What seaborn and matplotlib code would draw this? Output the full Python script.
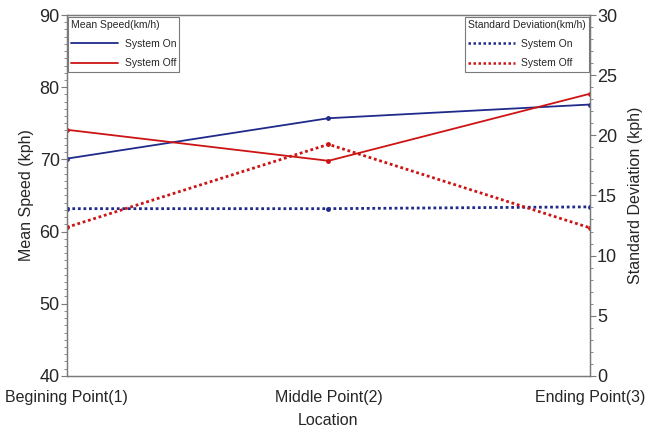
import matplotlib
matplotlib.use("Agg")
import matplotlib.pyplot as plt
import seaborn as sns
import pandas as pd
from matplotlib.ticker import MultipleLocator
from matplotlib.lines import Line2D

locations = ["Begining Point(1)", "Middle Point(2)", "Ending Point(3)"]
mean_on = [70.1, 75.7, 77.6]
mean_off = [74.1, 69.8, 79.1]
sd_on = [13.9, 13.9, 14.05]
sd_off = [12.35, 19.25, 12.3]

sns.set_style("white")
plt.rcParams['font.family'] = ['Liberation Sans', 'DejaVu Sans']

BLUE = "#1f2a8a"
RED = "#cc1414"
SPINE = "#7a7a7a"

mean_df = pd.DataFrame({
    "Location": locations * 2,
    "Mean": mean_on + mean_off,
    "System": ["System On"] * 3 + ["System Off"] * 3,
})
sd_df = pd.DataFrame({
    "Location": locations * 2,
    "SD": sd_on + sd_off,
    "System": ["System On"] * 3 + ["System Off"] * 3,
})

fig, ax = plt.subplots(figsize=(6.55, 4.30), dpi=100)
fig.subplots_adjust(left=0.102, right=0.901, top=0.965, bottom=0.126)

sns.lineplot(data=mean_df, x="Location", y="Mean", hue="System",
             palette={"System On": BLUE, "System Off": RED},
             marker="o", markersize=3.5, markeredgewidth=0, linewidth=1.3,
             ax=ax, legend=False, sort=False)
ax2 = ax.twinx()
sns.lineplot(data=sd_df, x="Location", y="SD", hue="System",
             palette={"System On": BLUE, "System Off": RED},
             marker="o", markersize=3.5, markeredgewidth=0, linewidth=2.0,
             linestyle=(0, (1, 1)), ax=ax2, legend=False, sort=False)

ax.set_xlim(0, 2)
ax.set_ylim(40, 90)
ax2.set_ylim(0, 30)
ax.yaxis.set_major_locator(MultipleLocator(10))
ax.yaxis.set_minor_locator(MultipleLocator(1))
ax2.yaxis.set_major_locator(MultipleLocator(5))
ax2.yaxis.set_minor_locator(MultipleLocator(1))

ax.set_xticks([0, 1, 2])
ax.set_xticklabels(locations, ha="center")

ax.set_xlabel("Location", fontsize=11.5, labelpad=6)
ax.set_ylabel("Mean Speed (kph)", fontsize=11.5, labelpad=4)
ax2.set_ylabel("Standard Deviation (kph)", fontsize=11.5, labelpad=8)

for a in (ax, ax2):
    for s in a.spines.values():
        s.set_color(SPINE)
        s.set_linewidth(0.9)
    a.tick_params(axis="both", which="major", direction="out", length=4,
                  width=0.8, color=SPINE, labelsize=13, pad=1)
    a.tick_params(axis="y", which="minor", direction="out", length=2,
                  width=0.6, color=SPINE)
ax.tick_params(axis="x", labelsize=11.5, pad=6)
ax.tick_params(axis="y", left=True, which="both")
ax2.tick_params(axis="y", right=True, which="both")

h1 = [Line2D([], [], color=BLUE, lw=1.3), Line2D([], [], color=RED, lw=1.3)]
leg1 = ax.legend(h1, ["System On", "System Off"], title="Mean Speed(km/h)",
                 loc="upper left", bbox_to_anchor=(0.0, 1.0), fontsize=7.5,
                 title_fontsize=7.5, frameon=True, fancybox=False,
                 edgecolor=SPINE, framealpha=1, labelspacing=0.9,
                 handlelength=4.5, handletextpad=0.6, borderpad=0.3,
                 alignment="left", borderaxespad=0.15)
leg1.get_frame().set_linewidth(0.8)
h2 = [Line2D([], [], color=BLUE, lw=1.8, ls=(0, (1, 1))),
      Line2D([], [], color=RED, lw=1.8, ls=(0, (1, 1)))]
leg2 = ax2.legend(h2, ["System On", "System Off"], title="Standard Deviation(km/h)",
                  loc="upper right", bbox_to_anchor=(1.0, 1.0), fontsize=7.5,
                  title_fontsize=7.5, frameon=True, fancybox=False,
                  edgecolor=SPINE, framealpha=1, labelspacing=0.9,
                  handlelength=4.5, handletextpad=0.6, borderpad=0.3,
                  alignment="left", borderaxespad=0.15)
leg2.get_frame().set_linewidth(0.8)

fig.savefig("out.png", dpi=100)
